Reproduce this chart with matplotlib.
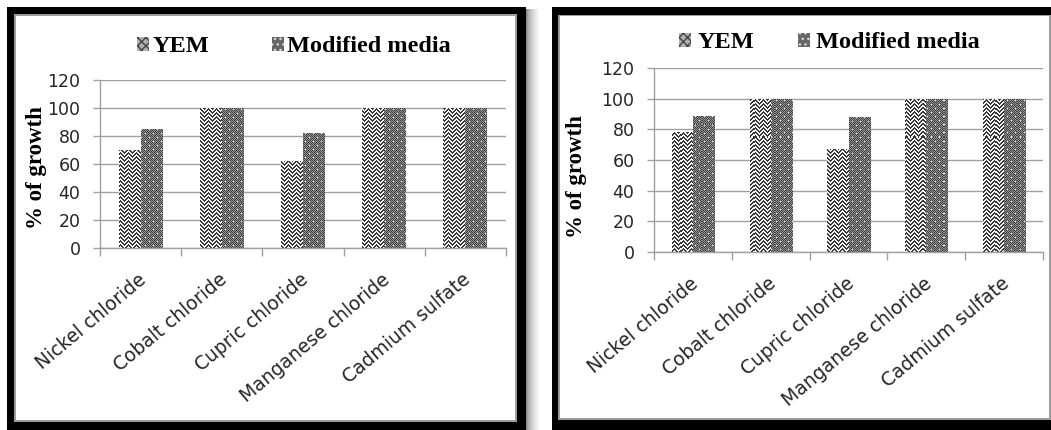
import numpy as np
import matplotlib
matplotlib.use("Agg")
import matplotlib.pyplot as plt
from matplotlib.patches import Rectangle, Patch
from matplotlib.transforms import ScaledTranslation

# ---- data -------------------------------------------------------------
categories = ["Nickel chloride", "Cobalt chloride", "Cupric chloride",
              "Manganese chloride", "Cadmium sulfate"]
series_names = ["YEM", "Modified media"]

yem_left = [70, 100, 62, 100, 100]
modified_left = [85, 100, 82, 100, 100]

yem_right = [78, 100, 67, 100, 100]
modified_right = [89, 100, 88, 100, 100]

y_ticks = [0, 20, 40, 60, 80, 100, 120]

# ---- canvas -----------------------------------------------------------
W, H = 1051, 430
fig = plt.figure(figsize=(W / 100, H / 100), dpi=100)
fig.patch.set_facecolor("white")


def box(x0, y0, x1, y1):
    """Pixel box (y measured from the top) -> figure fraction rect."""
    return [x0 / W, 1 - y1 / H, (x1 - x0) / W, (y1 - y0) / H]


def frame(outer, line, inner):
    for rect, col in ((outer, "black"), (line, "#9c9c9c"), (inner, "white")):
        l, b, w, h = box(*rect)
        fig.patches.append(Rectangle((l, b), w, h, transform=fig.transFigure,
                                     facecolor=col, edgecolor="none", zorder=-5))


frame((7, 7, 526, 432), (14, 14, 517, 422), (16, 16, 515, 420))
frame((552, 7, 1070, 432), (558, 15, 1051, 420), (560, 16, 1049, 418))

# soft drop shadow to the right of the first frame
sh = fig.add_axes(box(526, 9, 540, 430), zorder=-4)
grad = np.linspace(0.0, 1.0, 64)[None, :] ** 0.5 * 0.55 + 0.45
sh.imshow(np.repeat(grad, 8, axis=0), cmap="gray", vmin=0, vmax=1,
          aspect="auto", interpolation="bilinear")
sh.set_axis_off()


# ---- fill textures ------------------------------------------------------
def texture(kind, w, h):
    yy, xx = np.mgrid[0:h, 0:w]
    if kind == "zigzag":
        left = (xx % 8) < 4
        on = np.where(left, (xx + yy) % 4 < 2, (yy - xx) % 4 < 2)
        img = np.where(on, 0.22, 0.95)
    else:
        chk = (xx + yy) % 2 == 0
        img = np.where(chk, 0.26, 0.58)
        dots = ((xx % 8 == 1) & (yy % 8 == 1)) | ((xx % 8 == 5) & (yy % 8 == 5))
        img = np.where(dots, 0.95, img)
    return img


def panel(rect_px, yem, modified, label_xy, legend_xy, col_space, text_pad):
    x0, y0, x1, y1 = rect_px
    ax = fig.add_axes(box(x0, y0, x1, y1))
    ax.set_facecolor("none")
    wpx, hpx = x1 - x0, y1 - y0
    x = np.arange(len(categories))
    bw = 0.27

    for vals, off, kind in ((yem, -bw / 2, "zigzag"), (modified, bw / 2, "dots")):
        bars = ax.bar(x + off, vals, bw, facecolor="none", edgecolor="none", zorder=2)
        tex = texture(kind, wpx, hpx)
        for patch in bars.patches:
            im = ax.imshow(tex, cmap="gray", vmin=0, vmax=1, extent=(0, 1, 0, 1),
                           transform=ax.transAxes, interpolation="nearest",
                           aspect="auto", zorder=2)
            im.set_clip_path(patch)

    ax.set_xlim(-0.5, len(categories) - 0.5)
    ax.set_ylim(0, 120)
    ax.set_yticks(y_ticks)
    ax.set_xticks(x)
    ax.set_xticklabels(categories, rotation=40, ha="right", va="center",
                       rotation_mode="anchor", fontsize=13.5,
                       fontfamily="DejaVu Sans", color="#262626")
    ax.set_xticks(np.arange(-0.5, len(categories), 1), minor=True)
    ax.tick_params(axis="x", which="major", length=0, pad=21)
    ax.tick_params(axis="x", which="minor", length=6, width=1,
                   color="#a0a0a0", direction="out")
    ax.tick_params(axis="y", length=5, width=1, color="#a0a0a0", pad=9,
                   labelsize=12.5, labelcolor="#262626")
    for lbl in ax.get_xticklabels():
        lbl.set_transform(lbl.get_transform() +
                          ScaledTranslation(0.03, 0, fig.dpi_scale_trans))

    ax.set_axisbelow(True)
    ax.grid(axis="y", color="#a0a0a0", lw=1)
    for s in ("top", "right"):
        ax.spines[s].set_visible(False)
    for s in ("left", "bottom"):
        ax.spines[s].set_color("#a0a0a0")
        ax.spines[s].set_linewidth(1)

    ax.set_ylabel("% of growth", fontfamily="Liberation Serif",
                  fontweight="bold", fontsize=16.5, color="black")
    ax.yaxis.set_label_coords(*label_xy)

    handles = [
        Patch(facecolor="#b0b0b0", edgecolor="#454545", hatch="xxxx", lw=0),
        Patch(facecolor="#666666", edgecolor="#d8d8d8", hatch="...", lw=0),
    ]
    fig.legend(handles, series_names, loc="center left",
               bbox_to_anchor=(legend_xy[0] / W, 1 - legend_xy[1] / H),
               ncol=2, frameon=False,
               prop=dict(family="Liberation Serif", weight="bold", size=17.5),
               handlelength=0.5, handleheight=0.5, handletextpad=text_pad,
               columnspacing=col_space, borderpad=0, borderaxespad=0)
    return ax


panel((100, 80, 506, 248), yem_left, modified_left,
      (-0.131, 0.48), (137, 47), 2.55, 0.15)
panel((654, 68, 1043, 252), yem_right, modified_right,
      (-0.172, 0.41), (679, 43), 1.8, 0.25)

fig.savefig("out.png", dpi=100)
